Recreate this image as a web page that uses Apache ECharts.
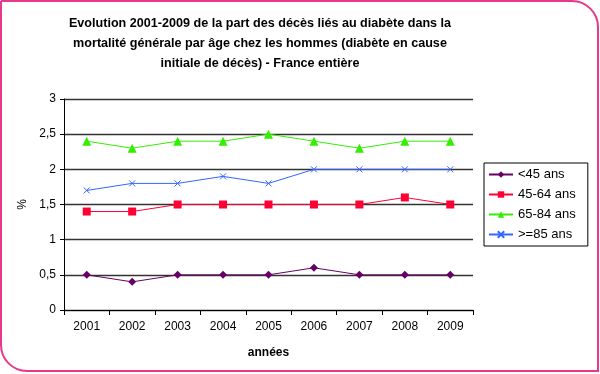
<!DOCTYPE html>
<html><head><meta charset="utf-8">
<script src="https://cdn.jsdelivr.net/npm/echarts@6/dist/echarts.min.js"></script>
<style>html,body{margin:0;padding:0;background:#fff}#c{width:600px;height:374px}</style>
</head><body><div id="c"></div>
<script>
const categories = ['2001','2002','2003','2004','2005','2006','2007','2008','2009'];
const seriesNames = ['<45 ans','45-64 ans','65-84 ans','>=85 ans'];
const under45 = [0.5,0.4,0.5,0.5,0.5,0.6,0.5,0.5,0.5];
const age45_64 = [1.4,1.4,1.5,1.5,1.5,1.5,1.5,1.6,1.5];
const age65_84 = [2.4,2.3,2.4,2.4,2.5,2.4,2.3,2.4,2.4];
const age85plus = [1.7,1.8,1.8,1.9,1.8,2.0,2.0,2.0,2.0];
const yTicks = [0,0.5,1,1.5,2,2.5,3];

const chart = echarts.init(document.getElementById('c'));
const font = 'Liberation Sans, Arial, sans-serif';
function mk(name, data, color, symbol, size, extra) {
  return Object.assign({
    name: name, type: 'line', data: data, symbol: symbol, symbolSize: size,
    lineStyle: {color: color, width: 1},
    itemStyle: {color: color},
    animation: false
  }, extra || {});
}
chart.setOption({
  animation: false,
  title: {
    text: 'Evolution 2001-2009 de la part des décès liés au diabète dans la\nmortalité générale par âge chez les hommes (diabète en cause\ninitiale de décès) - France entière',
    left: 255, top: 9, textAlign: 'center',
    textStyle: {fontFamily: font, fontSize: 12.6, fontWeight: 'bold', color: '#000', lineHeight: 20}
  },
  graphic: [{
    type: 'rect', silent: true, z: -1,
    shape: {x: 1, y: 1, width: 597, height: 370, r: [0, 26, 0, 26]},
    style: {fill: 'none', stroke: '#e8388a', lineWidth: 2}
  }],
  legend: {
    orient: 'vertical', left: 484, top: 163,
    itemWidth: 24, itemHeight: 8, itemGap: 7,
    padding: [5, 12, 5, 4],
    borderColor: '#000', borderWidth: 1, borderRadius: 0,
    textStyle: {fontFamily: font, fontSize: 13, color: '#000'},
    data: seriesNames
  },
  grid: {left: 64, right: 127, top: 99, bottom: 64},
  xAxis: {
    type: 'category', data: categories, boundaryGap: true,
    name: 'années', nameLocation: 'middle', nameGap: 37,
    nameTextStyle: {fontFamily: font, fontSize: 12, fontWeight: 'bold', color: '#000'},
    axisLine: {lineStyle: {color: '#000', width: 1}},
    axisTick: {show: true, length: 5, lineStyle: {color: '#000'}},
    axisLabel: {fontFamily: font, fontSize: 12, color: '#000', margin: 11}
  },
  yAxis: {
    type: 'value', min: 0, max: 3, interval: 0.5,
    name: '%', nameLocation: 'middle', nameGap: 35, nameRotate: 90,
    nameTextStyle: {fontFamily: font, fontSize: 12, color: '#000'},
    axisLine: {show: true, lineStyle: {color: '#000', width: 1}},
    axisTick: {show: true, length: 4, lineStyle: {color: '#000'}},
    axisLabel: {fontFamily: font, fontSize: 12, color: '#000', margin: 8,
      formatter: v => yTicks.includes(v) ? String(v).replace('.', ',') : ''},
    splitLine: {show: true, lineStyle: {color: '#333', width: 1.3}}
  },
  series: [
    mk(seriesNames[0], under45, '#660066', 'diamond', 8),
    mk(seriesNames[1], age45_64, '#ff0033', 'rect', 8),
    mk(seriesNames[2], age65_84, '#33ee00', 'triangle', 9),
    mk(seriesNames[3], age85plus, '#3366ff', 'path://M0,0L10,10M10,0L0,10', 6,
      {itemStyle: {color: '#3366ff', borderColor: '#3366ff', borderWidth: 1}})
  ]
});
</script></body></html>
